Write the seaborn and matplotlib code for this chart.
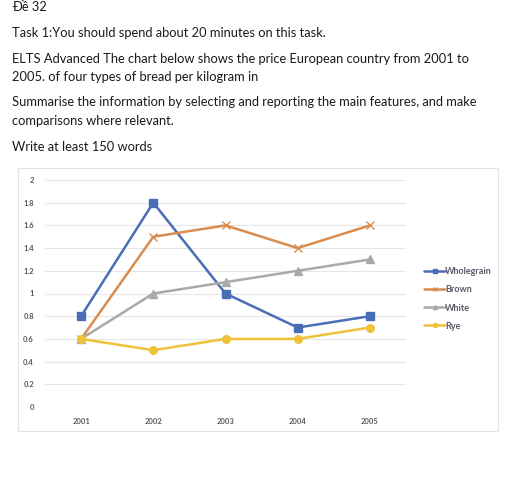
import matplotlib
matplotlib.use("Agg")
import matplotlib.pyplot as plt
import seaborn as sns
import pandas as pd
from matplotlib.patches import Rectangle

years = ["2001", "2002", "2003", "2004", "2005"]
wholegrain = [0.8, 1.8, 1.0, 0.7, 0.8]
brown = [0.6, 1.5, 1.6, 1.4, 1.6]
white = [0.6, 1.0, 1.1, 1.2, 1.3]
rye = [0.6, 0.5, 0.6, 0.6, 0.7]
series_names = ["Wholegrain", "Brown", "White", "Rye"]
y_ticks = [0, 0.2, 0.4, 0.6, 0.8, 1, 1.2, 1.4, 1.6, 1.8, 2]

text_lines = [
    ("Đề 32", 7),
    ("Task 1:You should spend about 20 minutes on this task.", 33),
    ("ELTS Advanced The chart below shows the price European country from 2001 to", 59),
    ("2005. of four types of bread per kilogram in", 77),
    ("Summarise the information by selecting and reporting the main features, and make", 102),
    ("comparisons where relevant.", 121),
    ("Write at least 150 words", 147),
]

sns.set_theme(style="white")
plt.rcParams['font.family'] = ['Lato', 'DejaVu Sans']

W, H = 512, 501
fig = plt.figure(figsize=(W / 100, H / 100), dpi=100)
fig.patch.set_facecolor("white")

for txt, ypx in text_lines:
    fig.text(12 / W, 1 - ypx / H, txt, fontsize=9.3, color="#1a1a1a",
             ha="left", va="center")

# chart frame
fig.patches.append(Rectangle((18 / W, 1 - 431 / H), (498 - 18) / W, (431 - 168) / H,
                             transform=fig.transFigure, fill=False,
                             edgecolor="#e3e3e3", linewidth=0.8))

ax = fig.add_axes([45 / W, 1 - 407 / H, (406 - 45) / W, (407 - 180) / H])
colors = ["#4A6DB8", "#D98C4E", "#A9A9A9", "#EFC23A"]
markers = ["s", "x", "^", "o"]
for name, vals, c, m in zip(series_names, [wholegrain, brown, white, rye], colors, markers):
    d = pd.DataFrame({"year": years, "price": vals})
    sns.lineplot(data=d, x="year", y="price", color=c, marker=m, linewidth=1.8,
                 markersize=5.5, markeredgewidth=1.0, markeredgecolor=c,
                 ax=ax, sort=False, label=name)

ax.set_xlim(-0.5, 4.5)
ax.set_ylim(0, 2)
ax.set_yticks(y_ticks)
ax.set_yticklabels([f"{t:g}" for t in y_ticks])
ax.grid(axis="y", color="#e6e6e6", linewidth=0.8)
ax.set_axisbelow(True)
for s in ax.spines.values():
    s.set_visible(False)
ax.tick_params(axis="both", length=0, labelsize=5.5, labelcolor="#595959", pad=8)
for lab in ax.get_xticklabels() + ax.get_yticklabels():
    lab.set_fontweight("bold")
ax.set_xlabel("")
ax.set_ylabel("")

handles, labels = ax.get_legend_handles_labels()
leg = ax.legend(handles, labels, loc="center left", bbox_to_anchor=(416 / W, 1 - 299 / H),
                bbox_transform=fig.transFigure, frameon=False, fontsize=6.5,
                handlelength=2.3, handletextpad=0.05, labelspacing=1.0, markerscale=0.55,
                labelcolor="#5a5a6a")
for t in leg.get_texts():
    t.set_fontweight("bold")

fig.savefig("out.png", dpi=100)
